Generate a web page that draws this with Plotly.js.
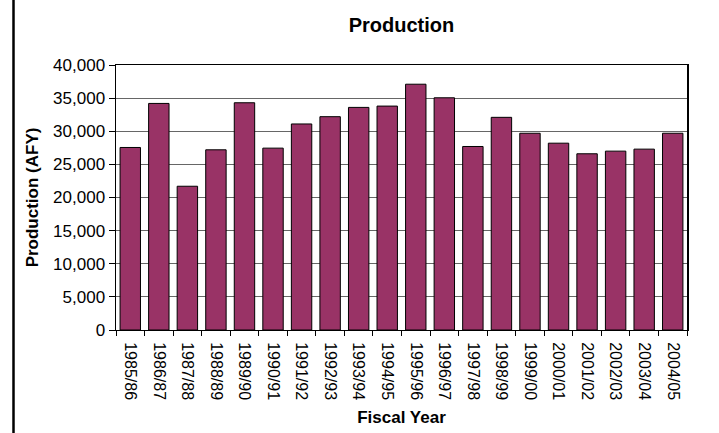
<!DOCTYPE html>
<html>
<head>
<meta charset="utf-8">
<script src="https://cdn.plot.ly/plotly-3.0.1.min.js"></script>
<style>html,body{margin:0;padding:0;background:#fff;}#chart{width:719px;height:433px;}</style>
</head>
<body>
<div id="chart"></div>
<script>
const fiscalYears = ["1985/86","1986/87","1987/88","1988/89","1989/90","1990/91","1991/92","1992/93","1993/94","1994/95","1995/96","1996/97","1997/98","1998/99","1999/00","2000/01","2001/02","2002/03","2003/04","2004/05"];
const production = [27550, 34200, 21700, 27200, 34300, 27450, 31100, 32200, 33600, 33800, 37100, 35050, 27700, 32100, 29700, 28200, 26600, 27000, 27300, 29700];
const yTicks = [0, 5000, 10000, 15000, 20000, 25000, 30000, 35000, 40000];
const yTickText = ["0","5,000","10,000","15,000","20,000","25,000","30,000","35,000","40,000"];

const FONT = "Liberation Sans, Arial, sans-serif";

const trace = {
  type: "bar",
  x: fiscalYears,
  y: production,
  marker: {color: "#993366", line: {color: "#000000", width: 1}},
  hoverinfo: "x+y"
};

const layout = {
  width: 719, height: 433,
  margin: {l: 116, r: 32, t: 65, b: 103, pad: 0},
  paper_bgcolor: "#ffffff",
  plot_bgcolor: "#ffffff",
  showlegend: false,
  bargap: 0.285,
  font: {family: FONT, color: "#000000"},
  title: {
    text: "<b>Production</b>",
    font: {family: FONT, size: 20, color: "#000000"},
    x: 0.5, xref: "paper", xanchor: "center",
    y: 1 - 25/433, yref: "container", yanchor: "middle"
  },
  xaxis: {
    type: "category",
    tickangle: 90,
    tickson: "boundaries",
    ticks: "outside", ticklen: 5, tickcolor: "#000000", tickwidth: 1,
    ticklabelstandoff: 8,
    showline: true, linecolor: "#000000", linewidth: 1, mirror: true,
    showgrid: false,
    tickfont: {family: FONT, size: 16, color: "#000000"},
    title: {text: "<b>Fiscal Year</b>", font: {family: FONT, size: 17, color: "#000000"}, standoff: 11},
    automargin: false
  },
  yaxis: {
    range: [0, 40000],
    tickvals: yTicks,
    ticktext: yTickText,
    ticks: "outside", ticklen: 6, tickcolor: "#000000", tickwidth: 1,
    showline: true, linecolor: "#000000", linewidth: 1.5, mirror: true,
    showgrid: true, gridcolor: "#666666", gridwidth: 1.2,
    zeroline: false,
    tickfont: {family: FONT, size: 17, color: "#000000"},
    title: {text: "<b>Production (AFY)</b>", font: {family: FONT, size: 17, color: "#000000"}, standoff: 10},
    automargin: false
  },
  shapes: [
    {type: "line", xref: "paper", yref: "paper", x0: -102.5/571, x1: -102.5/571, y0: -103/265, y1: 1 + 65/265,
     line: {color: "#000000", width: 2.5}}
  ]
};

Plotly.newPlot("chart", [trace], layout, {displayModeBar: false, staticPlot: true});
</script>
</body>
</html>
